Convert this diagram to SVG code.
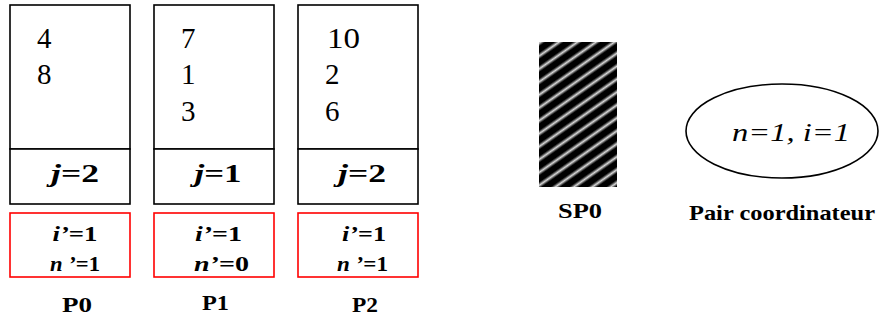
<svg xmlns="http://www.w3.org/2000/svg" width="883" height="322" viewBox="0 0 883 322">
<defs>
<style>
.box{fill:#fff;stroke:#000;stroke-width:1.6}
.rbox{fill:#fff;stroke:#f00;stroke-width:1.6}
</style>
<linearGradient id="sg" x1="0" y1="0" x2="0" y2="1">
<stop offset="0" stop-color="#000"/>
<stop offset="0.25" stop-color="#000"/>
<stop offset="0.5" stop-color="#d8d8d8"/>
<stop offset="0.75" stop-color="#000"/>
<stop offset="1" stop-color="#000"/>
</linearGradient>
<pattern id="stripes" patternUnits="userSpaceOnUse" width="20" height="10.6" patternTransform="rotate(-35)">
<rect width="20" height="10.6" fill="url(#sg)"/>
</pattern>
</defs>
<rect width="883" height="322" fill="#fff"/>
<g id="P0">
<rect class="box" x="10" y="5" width="120" height="144"/>
<rect class="box" x="10" y="149" width="120" height="55"/>
<text x="37" y="48" font-size="29" font-family="Times New Roman, Liberation Serif, serif">4</text>
<text x="37" y="84" font-size="29" font-family="Times New Roman, Liberation Serif, serif">8</text>
<text x="75" y="182" font-size="25" font-weight="bold" font-family="Times New Roman, Liberation Serif, serif" text-anchor="middle" textLength="48" lengthAdjust="spacingAndGlyphs"><tspan font-style="italic">j</tspan>=2</text>
<rect class="rbox" x="10" y="213" width="120" height="64"/>
<text x="75" y="241" font-size="21" font-weight="bold" font-family="Times New Roman, Liberation Serif, serif" text-anchor="middle" textLength="45" lengthAdjust="spacingAndGlyphs"><tspan font-style="italic">i’</tspan>=1</text>
<text x="75" y="271" font-size="21" font-weight="bold" font-family="Times New Roman, Liberation Serif, serif" text-anchor="middle" textLength="50" lengthAdjust="spacingAndGlyphs"><tspan font-style="italic">n ’</tspan>=1</text>
<text x="77" y="312" font-size="21" font-weight="bold" font-family="Times New Roman, Liberation Serif, serif" text-anchor="middle" textLength="30" lengthAdjust="spacingAndGlyphs">P0</text>
</g>
<g id="P1">
<rect class="box" x="154" y="5" width="120" height="144"/>
<rect class="box" x="154" y="149" width="120" height="55"/>
<text x="181" y="48" font-size="29" font-family="Times New Roman, Liberation Serif, serif">7</text>
<text x="181" y="84" font-size="29" font-family="Times New Roman, Liberation Serif, serif">1</text>
<text x="181" y="121" font-size="29" font-family="Times New Roman, Liberation Serif, serif">3</text>
<text x="218" y="182" font-size="25" font-weight="bold" font-family="Times New Roman, Liberation Serif, serif" text-anchor="middle" textLength="47" lengthAdjust="spacingAndGlyphs"><tspan font-style="italic">j</tspan>=1</text>
<rect class="rbox" x="154" y="213" width="120" height="64"/>
<text x="218.5" y="241" font-size="21" font-weight="bold" font-family="Times New Roman, Liberation Serif, serif" text-anchor="middle" textLength="47" lengthAdjust="spacingAndGlyphs"><tspan font-style="italic">i’</tspan>=1</text>
<text x="221.5" y="271" font-size="21" font-weight="bold" font-family="Times New Roman, Liberation Serif, serif" text-anchor="middle" textLength="55" lengthAdjust="spacingAndGlyphs"><tspan font-style="italic">n’</tspan>=0</text>
<text x="215.5" y="310" font-size="21" font-weight="bold" font-family="Times New Roman, Liberation Serif, serif" text-anchor="middle" textLength="27" lengthAdjust="spacingAndGlyphs">P1</text>
</g>
<g id="P2">
<rect class="box" x="298" y="5" width="120" height="144"/>
<rect class="box" x="298" y="149" width="120" height="55"/>
<text x="327" y="48" font-size="29" font-family="Times New Roman, Liberation Serif, serif" textLength="33" lengthAdjust="spacingAndGlyphs">10</text>
<text x="325" y="84" font-size="29" font-family="Times New Roman, Liberation Serif, serif">2</text>
<text x="325" y="121" font-size="29" font-family="Times New Roman, Liberation Serif, serif">6</text>
<text x="362" y="182" font-size="25" font-weight="bold" font-family="Times New Roman, Liberation Serif, serif" text-anchor="middle" textLength="48" lengthAdjust="spacingAndGlyphs"><tspan font-style="italic">j</tspan>=2</text>
<rect class="rbox" x="298" y="213" width="120" height="64"/>
<text x="364" y="241" font-size="21" font-weight="bold" font-family="Times New Roman, Liberation Serif, serif" text-anchor="middle" textLength="44" lengthAdjust="spacingAndGlyphs"><tspan font-style="italic">i’</tspan>=1</text>
<text x="362.5" y="271" font-size="21" font-weight="bold" font-family="Times New Roman, Liberation Serif, serif" text-anchor="middle" textLength="51" lengthAdjust="spacingAndGlyphs"><tspan font-style="italic">n ’</tspan>=1</text>
<text x="365" y="312" font-size="21" font-weight="bold" font-family="Times New Roman, Liberation Serif, serif" text-anchor="middle" textLength="26" lengthAdjust="spacingAndGlyphs">P2</text>
</g>
<g id="SP0">
<rect x="539" y="42" width="78" height="145" fill="url(#stripes)"/>
<text x="580" y="218" font-size="21" font-weight="bold" font-family="Times New Roman, Liberation Serif, serif" text-anchor="middle" textLength="44" lengthAdjust="spacingAndGlyphs">SP0</text>
</g>
<g id="coordinateur">
<ellipse cx="782" cy="131" rx="96" ry="47" fill="#fff" stroke="#000" stroke-width="1.6"/>
<text x="791" y="141" font-size="26" font-style="italic" font-family="Times New Roman, Liberation Serif, serif" text-anchor="middle" textLength="118" lengthAdjust="spacingAndGlyphs">n=1, i=1</text>
<text x="689" y="220" font-size="21" font-weight="bold" font-family="Times New Roman, Liberation Serif, serif" textLength="186" lengthAdjust="spacingAndGlyphs">Pair coordinateur</text>
</g>
<g id="connectors"></g>
</svg>
